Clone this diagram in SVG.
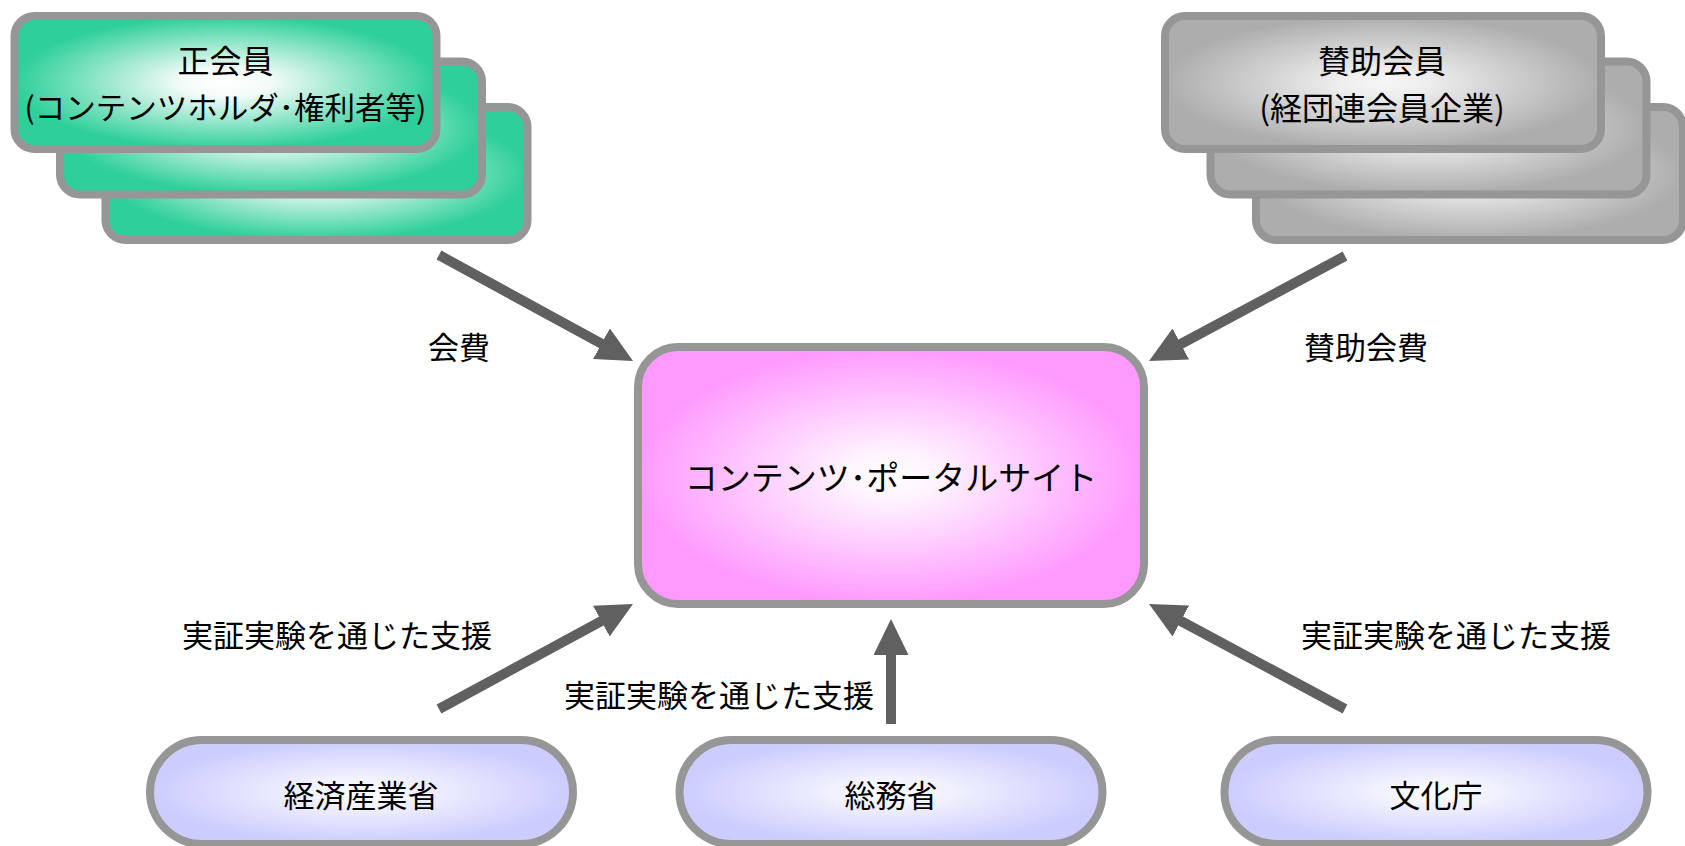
<svg xmlns="http://www.w3.org/2000/svg" width="1685" height="846" viewBox="0 0 1685 846">
<defs>
<style>
.box{stroke:#969696;stroke-width:8}
.green{fill:url(#gGreen)}
.gray{fill:url(#gGray)}
.pink{fill:url(#gPink)}
.blue{fill:url(#gBlue)}
text{font-family:"Noto Sans CJK JP","Noto Sans",sans-serif;fill:#000}
.t{font-size:31px;text-anchor:middle;dominant-baseline:central}
.tb{font-size:32px;text-anchor:middle;dominant-baseline:central}
.ts{font-size:30.5px;text-anchor:middle;dominant-baseline:central}
.tp{font-size:33px;text-anchor:middle;dominant-baseline:central}
.arrow{stroke:#606060;stroke-width:10;fill:none;marker-end:url(#ah)}
</style>
<radialGradient id="gGreen" cx="0.5" cy="0.5" r="0.5">
<stop offset="0" stop-color="#ffffff"/>
<stop offset="0.22" stop-color="#f2fbf7"/>
<stop offset="1" stop-color="#2ecf9a"/>
</radialGradient>
<radialGradient id="gGray" cx="0.5" cy="0.5" r="0.5">
<stop offset="0" stop-color="#f6f6f6"/>
<stop offset="0.2" stop-color="#eeeeee"/>
<stop offset="1" stop-color="#adadad"/>
</radialGradient>
<radialGradient id="gPink" cx="0.5" cy="0.5" r="0.5">
<stop offset="0" stop-color="#ffffff"/>
<stop offset="0.18" stop-color="#fff4ff"/>
<stop offset="1" stop-color="#ff99ff"/>
</radialGradient>
<radialGradient id="gBlue" cx="0.5" cy="0.5" r="0.5">
<stop offset="0" stop-color="#ffffff"/>
<stop offset="0.18" stop-color="#f6f6ff"/>
<stop offset="1" stop-color="#ccccff"/>
</radialGradient>
<marker id="ah" markerUnits="userSpaceOnUse" markerWidth="38" markerHeight="36" viewBox="0 0 38 36" refX="1" refY="17.5" orient="auto">
<path d="M0,0 L36,17.5 L0,35 z" fill="#606060"/>
</marker>
</defs>

<g id="node-seikaiin">
<rect class="box green" x="105.5" y="107" width="422" height="133" rx="20"/>
<rect class="box green" x="60" y="61.5" width="422" height="133" rx="20"/>
<rect class="box green" x="14.5" y="16" width="422" height="133" rx="20"/>
<text class="tb" x="225.5" y="59">正会員</text>
<text class="ts" x="225.5" y="106">(コンテンツホルダ･権利者等)</text>
</g>

<g id="node-sanjo">
<rect class="box gray" x="1256" y="107" width="427" height="133" rx="20"/>
<rect class="box gray" x="1210.5" y="61.5" width="436" height="133" rx="20"/>
<rect class="box gray" x="1165" y="16" width="436" height="133" rx="20"/>
<text class="tb" x="1382" y="59">賛助会員</text>
<text class="tb" x="1382" y="106">(経団連会員企業)</text>
</g>

<g id="node-portal">
<rect class="box pink" x="638" y="347" width="506" height="257" rx="40"/>
<text class="tp" x="891" y="476">コンテンツ･ポータルサイト</text>
</g>

<g id="node-meti">
<rect class="box blue" x="150" y="740" width="423" height="104" rx="52"/>
<text class="t" x="361" y="793">経済産業省</text>
</g>

<g id="node-soumu">
<rect class="box blue" x="679.5" y="740" width="423" height="104" rx="52"/>
<text class="t" x="891" y="793">総務省</text>
</g>

<g id="node-bunka">
<rect class="box blue" x="1224.5" y="740" width="423" height="104" rx="52"/>
<text class="t" x="1436" y="793">文化庁</text>
</g>

<g id="connectors">
<line class="arrow" x1="439" y1="255" x2="602.3" y2="344.2"/>
<line class="arrow" x1="1345" y1="256" x2="1179.9" y2="344.5"/>
<line class="arrow" x1="439" y1="709" x2="602.2" y2="620.7"/>
<line class="arrow" x1="1345" y1="709" x2="1179.9" y2="620.5"/>
<line class="arrow" x1="891" y1="724" x2="891" y2="654"/>
<text class="t" x="459" y="345.5">会費</text>
<text class="t" x="1366" y="345.5">賛助会費</text>
<text class="t" x="337" y="633">実証実験を通じた支援</text>
<text class="t" x="719" y="693">実証実験を通じた支援</text>
<text class="t" x="1456" y="633">実証実験を通じた支援</text>
</g>
</svg>
